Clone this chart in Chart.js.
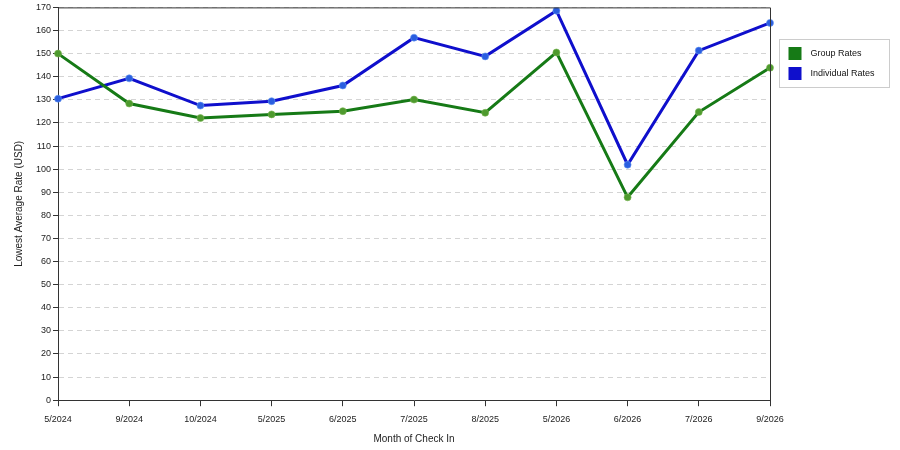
<!DOCTYPE html>
<html>
<head>
<meta charset="utf-8">
<script src="https://cdn.jsdelivr.net/npm/chart.js@4"></script>
<style>
    html, body { margin: 0; padding: 0; background: #fff; }
    #wrap { width: 900px; height: 450px; }
</style>
</head>
<body>
<div id="wrap"><canvas id="rateChart" width="900" height="450"></canvas></div>
<script>
const months = ['5/2024', '9/2024', '10/2024', '5/2025', '6/2025', '7/2025', '8/2025', '5/2026', '6/2026', '7/2026', '9/2026'];
const groupRates = [150, 128.4, 122.1, 123.7, 125.1, 130.1, 124.4, 150.5, 87.8, 124.7, 143.9];
const individualRates = [130.5, 139.3, 127.5, 129.4, 136.2, 156.9, 148.8, 168.6, 101.9, 151.3, 163.3];

const FONT = 'Liberation Sans, Arial, sans-serif';
const GREEN = '#167a16';
const BLUE = '#0f0fcc';

// frame around plot + legend box on the right
const framePlugin = {
    id: 'frame',
    afterDatasetsDraw(chart) {
        const { ctx, chartArea: a } = chart;
        ctx.save();
        ctx.strokeStyle = '#333';
        ctx.lineWidth = 1;
        ctx.beginPath();
        ctx.moveTo(a.left, a.top + 0.5);
        ctx.lineTo(a.right + 0.5, a.top + 0.5);
        ctx.lineTo(a.right + 0.5, a.bottom);
        ctx.stroke();

        // legend
        const x = a.right + 9.5, y = 39.5;
        ctx.strokeStyle = '#ccc';
        ctx.fillStyle = '#fff';
        ctx.fillRect(x, y, 110, 48);
        ctx.strokeRect(x, y, 110, 48);
        ctx.font = '9px ' + FONT;
        ctx.textBaseline = 'middle';
        chart.data.datasets.forEach((ds, i) => {
            const sy = 47 + i * 20;
            ctx.fillStyle = ds.borderColor;
            ctx.fillRect(x + 9, sy, 13, 13);
            ctx.fillStyle = '#111';
            ctx.fillText(ds.label, x + 31, sy + 7);
        });
        ctx.restore();
    }
};

new Chart(document.getElementById('rateChart'), {
    type: 'line',
    data: {
        labels: months,
        datasets: [{
            label: 'Group Rates',
            data: groupRates,
            borderColor: GREEN,
            backgroundColor: GREEN,
            pointBackgroundColor: '#4e9a2e',
            pointBorderColor: 'rgba(120,180,80,0.6)',
            pointBorderWidth: 1,
            pointRadius: 3.5,
            borderWidth: 3,
            tension: 0
        }, {
            label: 'Individual Rates',
            data: individualRates,
            borderColor: BLUE,
            backgroundColor: BLUE,
            pointBackgroundColor: '#2a5ee0',
            pointBorderColor: 'rgba(100,150,240,0.6)',
            pointBorderWidth: 1,
            pointRadius: 3.5,
            borderWidth: 3,
            tension: 0
        }]
    },
    options: {
        responsive: false,
        animation: false,
        devicePixelRatio: 1,
        layout: {
            padding: { left: 13, right: 130, top: 1, bottom: 5 }
        },
        plugins: {
            legend: { display: false },
            tooltip: { enabled: false }
        },
        scales: {
            x: {
                offset: false,
                grid: {
                    display: true,
                    drawOnChartArea: false,
                    drawTicks: true,
                    tickLength: 6,
                    color: '#333'
                },
                border: { color: '#333', width: 1 },
                ticks: {
                    color: '#222',
                    font: { family: FONT, size: 9 },
                    maxRotation: 0,
                    autoSkip: false,
                    padding: 8
                },
                title: {
                    display: true,
                    text: 'Month of Check In',
                    color: '#222',
                    font: { family: FONT, size: 10 },
                    padding: { top: 0, bottom: 0 }
                }
            },
            y: {
                min: 0,
                max: 170,
                grid: {
                    color: '#d4d4d4',
                    tickLength: 5,
                    tickColor: '#333'
                },
                border: { color: '#333', width: 1, dash: [5, 4] },
                ticks: {
                    stepSize: 10,
                    color: '#222',
                    font: { family: FONT, size: 9 },
                    padding: 2
                },
                title: {
                    display: true,
                    text: 'Lowest Average Rate (USD)',
                    color: '#222',
                    font: { family: FONT, size: 10 },
                    padding: { top: 0, bottom: 9 }
                }
            }
        }
    },
    plugins: [framePlugin]
});
</script>
</body>
</html>
